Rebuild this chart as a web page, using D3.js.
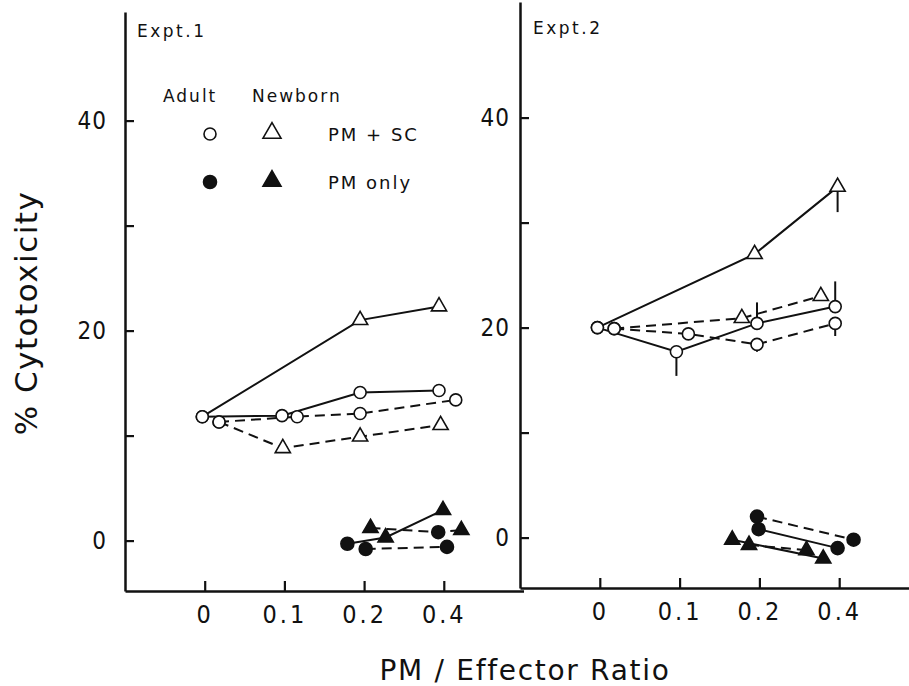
<!DOCTYPE html>
<html>
<head>
<meta charset="utf-8">
<script src="https://cdn.jsdelivr.net/npm/d3@7"></script>
<style>
  body { margin: 0; background: #fff; }
  text { font-family: "DejaVu Sans", sans-serif; fill: #111; }
  .tick text { font-family: "DejaVu Sans Condensed", "DejaVu Sans", sans-serif; font-stretch: condensed; }
</style>
</head>
<body>
<svg id="chart" width="909" height="686"></svg>
<script>
// PM / effector ratio categories (plotted at positions 0..3)
const ratioLabels = ["0", "0.1", "0.2", "0.4"];
const yTicks = [0, 10, 20, 30, 40];
const yLabelled = [0, 20, 40];

// points: [position on ratio axis as plotted, % cytotoxicity, "A" adult | "N" newborn]
// run "a" = solid line, run "b" = dashed line
const expt1Sc = [
  { run: "a", pts: [[-0.03, 11.8, "A"], [1.95, 21.0, "N"], [2.94, 22.3, "N"]] },
  { run: "b", pts: [[0.18, 11.3, "A"], [0.98, 8.8, "N"], [1.95, 9.9, "N"], [2.96, 11.0, "N"]] },
  { run: "a", pts: [[-0.03, 11.8, "A"], [0.97, 11.9, "A"], [1.95, 14.1, "A"], [2.94, 14.3, "A"]] },
  { run: "b", pts: [[0.18, 11.3, "A"], [1.16, 11.8, "A"], [1.95, 12.1, "A"], [3.15, 13.4, "A"]] }
];
const expt1Pm = [
  { run: "a", pts: [[1.79, -0.3, "A"], [2.27, 0.3, "N"], [2.99, 2.9, "N"]] },
  { run: "b", pts: [[2.08, 1.2, "N"], [2.93, 0.8, "A"], [3.22, 1.0, "N"]] },
  { run: "b", pts: [[2.02, -0.8, "A"], [3.04, -0.6, "A"]] }
];
const expt1Bars = [];

const expt2Sc = [
  { run: "a", pts: [[-0.03, 20.0, "A"], [1.94, 27.0, "N"], [2.98, 33.4, "N"]] },
  { run: "b", pts: [[0.18, 19.9, "A"], [1.78, 20.9, "N"], [2.77, 23.0, "N"]] },
  { run: "b", pts: [[0.18, 19.9, "A"], [1.11, 19.4, "A"], [1.97, 18.4, "A"], [2.95, 20.4, "A"]] },
  { run: "a", pts: [[-0.03, 20.0, "A"], [0.96, 17.7, "A"], [1.97, 20.4, "A"], [2.95, 22.0, "A"]] }
];
const expt2Pm = [
  { run: "b", pts: [[1.97, 2.0, "A"], [3.18, -0.2, "A"]] },
  { run: "a", pts: [[1.99, 0.8, "A"], [2.98, -1.0, "A"]] },
  { run: "a", pts: [[1.66, -0.2, "N"], [2.80, -2.0, "N"]] },
  { run: "b", pts: [[1.87, -0.7, "N"], [2.59, -1.2, "N"]] }
];
// error bars: [position, mean, end of bar]
const expt2Bars = [
  [0.96, 17.7, 15.4], [1.97, 20.4, 22.4], [1.97, 18.4, 17.7],
  [2.95, 22.0, 24.4], [2.95, 20.4, 19.2], [2.98, 33.4, 31.0]
];

const legendCols = ["Adult", "Newborn"];
const legendRows = [{ treat: "sc", label: "PM + SC" }, { treat: "pm", label: "PM only" }];

const svg = d3.select("#chart");
const ink = "#111";
const pxPerUnit = 10.5;
const yMin = -4.8;

const panels = [
  { name: "Expt.1", sc: expt1Sc, pm: expt1Pm, bars: expt1Bars,
    left: 125, right: 523.5, base: 591, top: 12, pad: 18, nameX: 137, nameY: 37 },
  { name: "Expt.2", sc: expt2Sc, pm: expt2Pm, bars: expt2Bars,
    left: 520, right: 919, base: 588, top: 2, pad: 10, nameX: 533, nameY: 34 }
];

const tri = d3.symbol().type(d3.symbolTriangle);

const drawMarker = (g, cell, treat, cx, cy, big) => {
  const fill = treat === "pm" ? ink : "#fff";
  if (cell === "A") {
    g.append("circle")
      .attr("cx", cx).attr("cy", cy)
      .attr("r", treat === "pm" ? 6.5 : 6)
      .attr("fill", fill).attr("stroke", ink).attr("stroke-width", 1.6);
  } else {
    g.append("path")
      .attr("d", tri.size(big ? 140 : 100)())
      .attr("transform", `translate(${cx},${cy})`)
      .attr("fill", fill).attr("stroke", ink).attr("stroke-width", 1.6)
      .attr("stroke-linejoin", "miter");
  }
};

panels.forEach(p => {
  const x = d3.scaleLinear().domain([-1, 4]).range([p.left, p.right]);
  const y = d3.scaleLinear()
    .domain([yMin, (p.base - p.top) / pxPerUnit + yMin])
    .range([p.base, p.top]);

  const g = svg.append("g");

  const xAxis = g.append("g")
    .attr("transform", `translate(0,${p.base})`)
    .call(d3.axisBottom(x)
      .tickValues([0, 1, 2, 3])
      .tickFormat(i => ratioLabels[i])
      .tickSizeInner(-10)
      .tickSizeOuter(0)
      .tickPadding(14));

  const yAxis = g.append("g")
    .attr("transform", `translate(${p.left},0)`)
    .call(d3.axisLeft(y)
      .tickValues(yTicks)
      .tickFormat(v => (yLabelled.includes(v) ? v : ""))
      .tickSizeInner(-9)
      .tickSizeOuter(0)
      .tickPadding(p.pad));

  [xAxis, yAxis].forEach(a => {
    a.attr("font-family", null).attr("font-size", null);
    a.select(".domain").attr("stroke", ink).attr("stroke-width", 2.5);
    a.selectAll(".tick line").attr("stroke", ink).attr("stroke-width", 2.2);
  });
  xAxis.selectAll(".tick text").attr("font-size", 25).attr("letter-spacing", 3);
  yAxis.selectAll(".tick text").attr("font-size", 24).attr("letter-spacing", 1);

  g.append("text")
    .attr("x", p.nameX).attr("y", p.nameY)
    .attr("font-size", 17).attr("letter-spacing", 2.5)
    .text(p.name);

  const line = d3.line().x(d => x(d[0])).y(d => y(d[1]));
  const series = [
    ...p.sc.map(s => ({ ...s, treat: "sc" })),
    ...p.pm.map(s => ({ ...s, treat: "pm" }))
  ];

  g.selectAll("path.series")
    .data(series)
    .enter()
    .append("path")
    .attr("class", "series")
    .attr("d", d => line(d.pts))
    .attr("fill", "none")
    .attr("stroke", ink)
    .attr("stroke-width", 2)
    .attr("stroke-dasharray", d => (d.run === "b" ? "10,6" : null));

  g.selectAll("line.bar")
    .data(p.bars)
    .enter()
    .append("line")
    .attr("class", "bar")
    .attr("x1", d => x(d[0])).attr("x2", d => x(d[0]))
    .attr("y1", d => y(d[1])).attr("y2", d => y(d[2]))
    .attr("stroke", ink).attr("stroke-width", 2);

  series.forEach(s => {
    s.pts.forEach(d => drawMarker(g, d[2], s.treat, x(d[0]), y(d[1]), false));
  });
});

// legend
const lg = svg.append("g");
lg.selectAll("text.col")
  .data(legendCols)
  .enter()
  .append("text")
  .attr("class", "col")
  .attr("x", (d, i) => (i === 0 ? 163 : 252))
  .attr("y", 102)
  .attr("font-size", 17)
  .attr("letter-spacing", 2)
  .text(d => d);

legendRows.forEach((r, i) => {
  const cy = 134 + i * 48;
  drawMarker(lg, "A", r.treat, 210, cy, true);
  drawMarker(lg, "N", r.treat, 272, cy - 1, true);
  lg.append("text")
    .attr("x", 328).attr("y", cy + 7)
    .attr("font-size", 18).attr("letter-spacing", 2)
    .text(r.label);
});

// axis titles
svg.append("text")
  .attr("transform", "translate(37,313) rotate(-90)")
  .attr("text-anchor", "middle")
  .attr("font-size", 31)
  .attr("letter-spacing", 1.5)
  .text("% Cytotoxicity");

svg.append("text")
  .attr("x", 525).attr("y", 680)
  .attr("text-anchor", "middle")
  .attr("font-size", 28)
  .attr("letter-spacing", 1.7)
  .text("PM / Effector Ratio");
</script>
</body>
</html>
